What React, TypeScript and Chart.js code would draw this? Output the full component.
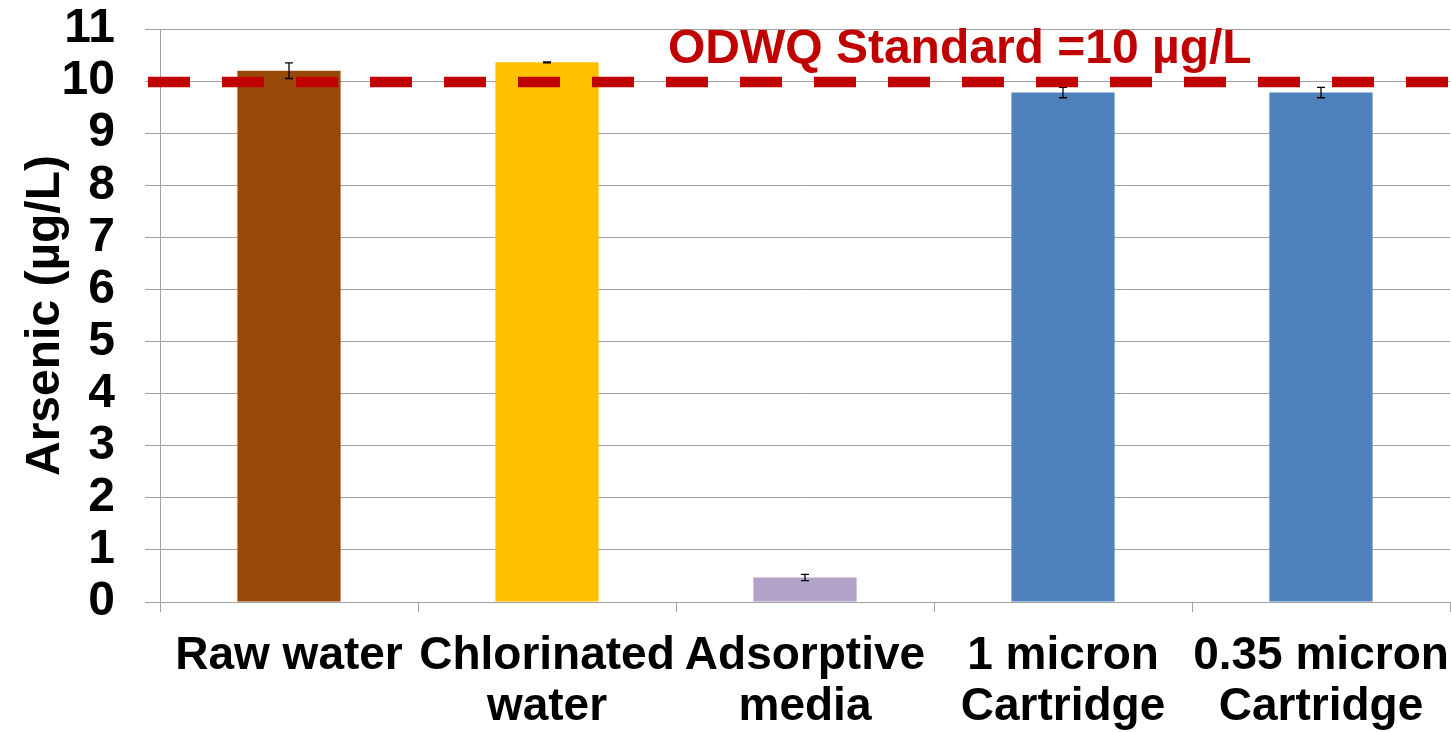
import React, { useEffect, useRef } from "react";
import { Chart, registerables } from "chart.js";

Chart.register(...registerables);

const categories: (string | string[])[] = [
  "Raw water",
  ["Chlorinated", "water"],
  ["Adsorptive", "media"],
  ["1 micron", "Cartridge"],
  ["0.35 micron", "Cartridge"],
];
const arsenicValues = [10.2, 10.36, 0.47, 9.78, 9.78];
const errorValues = [0.15, 0.01, 0.06, 0.1, 0.1];
const barColors = ["#984807", "#FFC000", "#B3A2C7", "#4F81BD", "#4F81BD"];
const standardValue = 10;
const standardLabel = "ODWQ Standard =10 µg/L";
const yTicks = [0, 1, 2, 3, 4, 5, 6, 7, 8, 9, 10, 11];

const FONT = "'Liberation Sans', Arial, Helvetica, sans-serif";

const errorBarPlugin = {
  id: "errorBars",
  afterDatasetsDraw(chart: any) {
    const meta = chart.getDatasetMeta(0);
    const y = chart.scales.y;
    const ctx = chart.ctx;
    ctx.save();
    ctx.strokeStyle = "#000";
    ctx.lineWidth = 1.3;
    meta.data.forEach((bar: any, i: number) => {
      const v = arsenicValues[i];
      const e = errorValues[i];
      const yTop = y.getPixelForValue(v + e);
      const yBot = y.getPixelForValue(v - e);
      const x = bar.x;
      const cap = 4;
      ctx.beginPath();
      ctx.moveTo(x, yTop);
      ctx.lineTo(x, yBot);
      ctx.moveTo(x - cap, yTop);
      ctx.lineTo(x + cap, yTop);
      ctx.moveTo(x - cap, yBot);
      ctx.lineTo(x + cap, yBot);
      ctx.stroke();
    });
    ctx.restore();
  },
};

const standardLinePlugin = {
  id: "standardLine",
  afterDraw(chart: any) {
    const y = chart.scales.y;
    const area = chart.chartArea;
    const ctx = chart.ctx;
    const py = y.getPixelForValue(standardValue) + 1;
    ctx.save();
    ctx.strokeStyle = "#C00000";
    ctx.lineWidth = 10.5;
    ctx.setLineDash([42, 32]);
    ctx.beginPath();
    ctx.moveTo(area.left - 12, py);
    ctx.lineTo(chart.width, py);
    ctx.stroke();
    ctx.setLineDash([]);
    ctx.fillStyle = "#C00000";
    ctx.font = `bold 48px ${FONT}`;
    ctx.textAlign = "center";
    ctx.textBaseline = "alphabetic";
    ctx.fillText(standardLabel, area.left + (area.right - area.left) * 0.62, py - 19);
    ctx.restore();
  },
};

export default function App() {
  const ref = useRef<HTMLCanvasElement>(null);
  useEffect(() => {
    if (!ref.current) return;
    const chart = new Chart(ref.current, {
      type: "bar",
      data: {
        labels: categories,
        datasets: [
          {
            data: arsenicValues,
            backgroundColor: barColors,
            borderWidth: 0,
            barPercentage: 0.4,
            categoryPercentage: 1,
          },
        ],
      },
      options: {
        animation: false,
        responsive: false,
        devicePixelRatio: 1,
        layout: { padding: { left: 0, right: 1, top: 0, bottom: 0 } },
        plugins: {
          legend: { display: false },
          tooltip: { enabled: false },
        },
        scales: {
          x: {
            offset: true,
            grid: {
              drawOnChartArea: false,
              drawTicks: true,
              tickLength: 10,
              offset: true,
              color: "#a0a0a0",
            },
            border: { color: "#a0a0a0", width: 1 },
            ticks: {
              color: "#000",
              font: { family: FONT, size: 46, weight: "bold", lineHeight: 1.1 },
              maxRotation: 0,
              minRotation: 0,
              autoSkip: false,
              padding: 19,
            },
            afterFit(s: any) {
              s.height = 130;
              s.paddingLeft = 0;
              s.paddingRight = 0;
            },
          },
          y: {
            min: 0,
            max: 11,
            afterBuildTicks(s: any) {
              s.ticks = yTicks.map((v) => ({ value: v }));
            },
            grid: { color: "#a0a0a0", tickLength: 15, drawTicks: true },
            border: { color: "#a0a0a0", width: 1 },
            ticks: {
              color: "#000",
              font: { family: FONT, size: 48, weight: "bold", lineHeight: 1.1 },
              padding: 30,
              autoSkip: false,
            },
            title: {
              display: true,
              text: "Arsenic (µg/L)",
              color: "#000",
              font: { family: FONT, size: 48, weight: "bold", lineHeight: 1.1 },
              padding: { top: 19, bottom: 0 },
            },
            afterFit(s: any) {
              s.width = 160;
              s.paddingTop = 29;
              s.paddingBottom = 0;
            },
          },
        },
      },
      plugins: [errorBarPlugin, standardLinePlugin],
    });
    return () => chart.destroy();
  }, []);
  return (
    <div style={{ position: "fixed", left: 0, top: 0, width: 1451, height: 732, background: "#fff" }}>
      <canvas ref={ref} width={1451} height={732} />
    </div>
  );
}
